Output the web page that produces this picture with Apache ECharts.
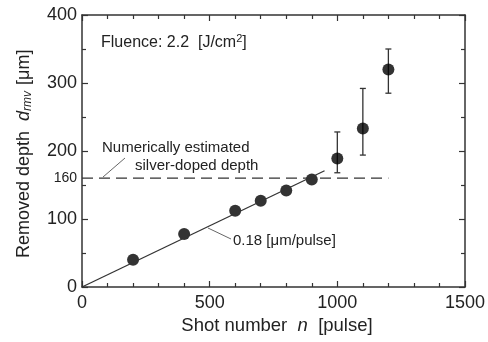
<!DOCTYPE html>
<html>
<head>
<meta charset="utf-8">
<script src="https://cdn.jsdelivr.net/npm/echarts@6/dist/echarts.min.js"></script>
<style>
  html, body { margin: 0; padding: 0; background: #fff; }
  #main { width: 488px; height: 342px; }
</style>
</head>
<body>
<div id="main"></div>
<script>
// measured points: shot number, removed depth
var shots = [200, 400, 600, 700, 800, 900, 1000, 1100, 1200];
var depths = [40, 78, 112, 127, 142, 158, 189, 233, 320];
// error bars (only for the last three)
var errLow = [null, null, null, null, null, null, 168, 194, 285];
var errHigh = [null, null, null, null, null, null, 228, 292, 350];
// fitted line 0.18 um/pulse
var fitX = [0, 950];
var fitY = [0, 171];
// silver-doped depth
var dopedX = [0, 1200];
var dopedY = [160, 160];
var yLabels = [0, 100, 160, 200, 300, 400];

var font = 'Liberation Sans, Arial, sans-serif';
var ink = '#222';

var myChart = echarts.init(document.getElementById('main'));

var pts = shots.map(function (s, i) { return [s, depths[i]]; });
var errs = [];
shots.forEach(function (s, i) {
    if (errLow[i] != null) errs.push([s, errLow[i], errHigh[i]]);
});

// measure text widths to lay out the y axis title with a subscript
var ctx = document.createElement('canvas').getContext('2d');
function textW(str, size, italic) {
    ctx.font = (italic ? 'italic ' : '') + size + 'px ' + font;
    return ctx.measureText(str).width;
}
var yParts = [
    { t: 'Removed depth', size: 18, it: false, dy: 0, after: 10 },
    { t: 'd', size: 18, it: true, dy: 0, after: 0 },
    { t: 'rmv', size: 12, it: true, dy: 4, after: 6 },
    { t: '[μm]', size: 18, it: false, dy: 0, after: 0 }
];
var yTitle = [];
var off = 0;
yParts.forEach(function (p) {
    yTitle.push({
        type: 'text', x: off, y: p.dy,
        style: {
            text: p.t, fontSize: p.size, fontFamily: font, fill: ink,
            fontStyle: p.it ? 'italic' : 'normal',
            align: 'left', verticalAlign: 'middle'
        }
    });
    off += textW(p.t, p.size, p.it) + p.after;
});

var axisBase = {
    axisLine: { show: true, onZero: false, lineStyle: { color: '#333', width: 1.5 } },
    splitLine: { show: false },
    axisTick: { inside: true, length: 6, lineStyle: { color: '#333', width: 1.2 } }
};

option = {
    animation: false,
    grid: { left: 82, right: 23, top: 15, bottom: 55 },
    xAxis: [
        Object.assign({}, axisBase, {
            type: 'value', min: 0, max: 1500, interval: 500,
            minorTick: { show: true, splitNumber: 5, length: 4, lineStyle: { color: '#333', width: 1.2 } },
            axisLabel: {
                color: ink, fontSize: 18, fontFamily: font, margin: 7,
                formatter: function (v) { return String(v); }
            }
        }),
        Object.assign({}, axisBase, {
            type: 'value', min: 0, max: 1500, interval: 500, position: 'top',
            minorTick: { show: true, splitNumber: 5, length: 4, lineStyle: { color: '#333', width: 1.2 } },
            axisLabel: { show: false }
        })
    ],
    yAxis: [
        Object.assign({}, axisBase, {
            type: 'value', min: 0, max: 400, interval: 100,
            minorTick: { show: true, splitNumber: 2, length: 4, lineStyle: { color: '#333', width: 1.2 } },
            axisLabel: {
                customValues: yLabels,
                color: ink, fontSize: 18, fontFamily: font, margin: 5,
                formatter: function (v) { return v === 160 ? '{s|160}' : String(v); },
                rich: { s: { fontSize: 14, fontFamily: font, color: ink } }
            }
        }),
        Object.assign({}, axisBase, {
            type: 'value', min: 0, max: 400, interval: 100, position: 'right',
            minorTick: { show: true, splitNumber: 2, length: 4, lineStyle: { color: '#333', width: 1.2 } },
            axisLabel: { show: false }
        })
    ],
    series: [
        {
            type: 'line', data: dopedX.map(function (x, i) { return [x, dopedY[i]]; }),
            symbol: 'none', silent: true,
            lineStyle: { color: '#333', width: 1.3, type: [11, 6] }
        },
        {
            type: 'line', data: fitX.map(function (x, i) { return [x, fitY[i]]; }),
            symbol: 'none', silent: true,
            lineStyle: { color: '#333', width: 1.3 }
        },
        {
            type: 'custom', data: errs,
            renderItem: function (params, api) {
                var top = api.coord([api.value(0), api.value(2)]);
                var bot = api.coord([api.value(0), api.value(1)]);
                var st = { stroke: '#333', lineWidth: 1.3 };
                return {
                    type: 'group',
                    children: [
                        { type: 'line', shape: { x1: top[0], y1: top[1], x2: bot[0], y2: bot[1] }, style: st },
                        { type: 'line', shape: { x1: top[0] - 3, y1: top[1], x2: top[0] + 3, y2: top[1] }, style: st },
                        { type: 'line', shape: { x1: bot[0] - 3, y1: bot[1], x2: bot[0] + 3, y2: bot[1] }, style: st }
                    ]
                };
            }
        },
        {
            type: 'scatter', data: pts, symbol: 'circle', symbolSize: 12,
            itemStyle: { color: '#000' }
        }
    ],
    graphic: [
        {
            type: 'text', left: 101, top: 33,
            style: {
                text: '{a|Fluence: 2.2  [J/cm}{p|2}{a|]}',
                rich: {
                    a: { fontSize: 16, fontFamily: font, fill: ink, lineHeight: 20 },
                    p: { fontSize: 11, fontFamily: font, fill: ink, verticalAlign: 'top', lineHeight: 20 }
                }
            }
        },
        {
            type: 'text', left: 102, top: 140,
            style: { text: 'Numerically estimated', fontSize: 15, fontFamily: font, fill: ink }
        },
        {
            type: 'text', left: 135, top: 158,
            style: { text: 'silver-doped depth', fontSize: 15, fontFamily: font, fill: ink }
        },
        {
            type: 'line', shape: { x1: 103, y1: 177, x2: 125, y2: 158 },
            style: { stroke: '#666', lineWidth: 1 }
        },
        {
            type: 'text', left: 233, top: 233,
            style: { text: '0.18 [μm/pulse]', fontSize: 15, fontFamily: font, fill: ink }
        },
        {
            type: 'line', shape: { x1: 208, y1: 228, x2: 231, y2: 239 },
            style: { stroke: '#666', lineWidth: 1 }
        },
        {
            type: 'text', x: 277, y: 326,
            style: {
                text: '{a|Shot number  }{i|n}{a|  [pulse]}',
                align: 'center', verticalAlign: 'middle',
                rich: {
                    a: { fontSize: 18.5, fontFamily: font, fill: ink },
                    i: { fontSize: 18.5, fontFamily: font, fill: ink, fontStyle: 'italic' }
                }
            }
        },
        {
            type: 'group', x: 24, y: 258, rotation: Math.PI / 2,
            children: yTitle
        }
    ]
};
myChart.setOption(option);
</script>
</body>
</html>
